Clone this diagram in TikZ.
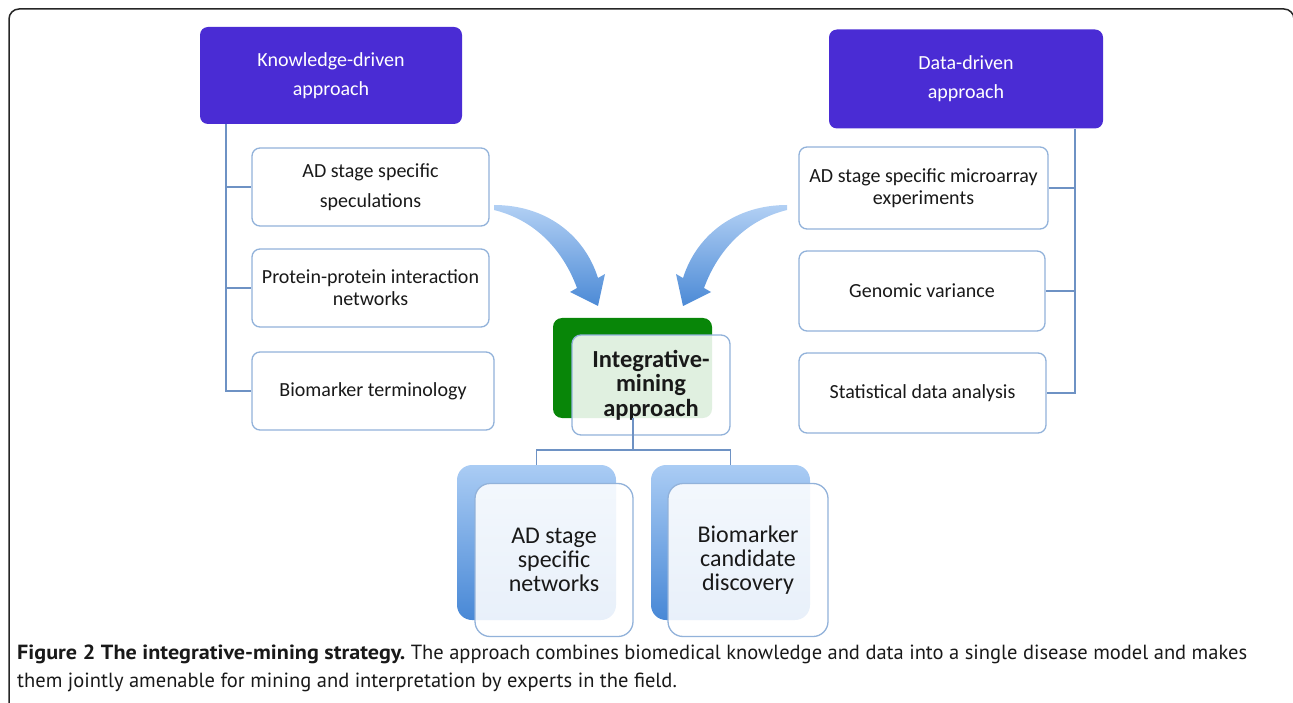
\documentclass[tikz,border=0pt]{standalone}
\usepackage{fontspec}
\usepackage{graphicx}
\setmainfont{Carlito}
\newfontfamily\capfont{PT Sans}
\definecolor{kdpurple}{RGB}{74,44,212}
\definecolor{boxline}{RGB}{146,178,218}
\definecolor{conline}{RGB}{110,146,196}
\definecolor{gbox}{RGB}{8,134,8}
\definecolor{arrlight}{RGB}{178,208,244}
\definecolor{arrdark}{RGB}{76,138,214}
\definecolor{btop}{RGB}{170,204,244}
\definecolor{bbot}{RGB}{72,136,214}
\definecolor{txt}{RGB}{25,25,25}
\tikzset{
  headbox/.style={fill=kdpurple, draw=none, rounded corners=8pt, text=white, align=center, font=\fontsize{20}{29}\selectfont, inner sep=0pt},
  childbox/.style={fill=white, draw=boxline, line width=1.3pt, rounded corners=8pt, text=txt, align=center, font=\fontsize{20}{22}\selectfont, inner sep=0pt},
  conn/.style={draw=conline, line width=1.3pt},
  greenbox/.style={fill=gbox, draw=none, rounded corners=9pt, inner sep=0pt},
  frontbox/.style={fill=white, fill opacity=0.88, text opacity=1, draw=boxline, line width=1.3pt, rounded corners=9pt, text=txt, align=center, inner sep=0pt},
  backbox/.style={top color=btop, bottom color=bbot, draw=none, rounded corners=15pt, inner sep=0pt},
  bigarrow/.style={top color=arrlight, bottom color=arrdark, draw=none},
}
\begin{document}
\begin{tikzpicture}[x=1pt,y=-1pt]
\useasboundingbox (0,0) rectangle (1293,703);
\begin{scope}
\clip (0,0) rectangle (1293,703);
\draw[line width=1.5pt, draw=black!85, rounded corners=10pt] (9,720) -- (9,9) -- (1294,9) -- (1294,720);
\end{scope}

% knowledge-driven side
\node[headbox, minimum width=262pt, minimum height=97pt] (kd) at (331,75.5) {Knowledge-driven\\approach};
\node[childbox, minimum width=237pt, minimum height=78pt, font=\fontsize{20}{30}\selectfont] (k1) at (370.5,187) {AD stage specific\\speculations};
\node[childbox, minimum width=237pt, minimum height=78pt] (k2) at (370.5,288) {Protein-protein interaction\\networks};
\node[childbox, minimum width=242pt, minimum height=78pt] (k3) at (373,391) {Biomarker terminology};
\coordinate (kx) at (226,0);
\draw[conn] (kd.south -| kx) |- (k3.west);
\draw[conn] (kx |- k1.west) -- (k1.west);
\draw[conn] (kx |- k2.west) -- (k2.west);

% data-driven side
\node[headbox, minimum width=274pt, minimum height=99pt] (dd) at (966,79) {Data-driven\\approach};
\node[childbox, minimum width=249pt, minimum height=82pt] (d1) at (923.5,188) {AD stage specific microarray\\experiments};
\node[childbox, minimum width=246pt, minimum height=80pt] (d2) at (922,291) {Genomic variance};
\node[childbox, minimum width=247pt, minimum height=80pt] (d3) at (922.5,393) {Statistical data analysis};
\coordinate (dx) at (1075,0);
\draw[conn] (dd.south -| dx) |- (d3.east);
\draw[conn] (dx |- d1.east) -- (d1.east);
\draw[conn] (dx |- d2.east) -- (d2.east);

% curved arrows
\path[bigarrow] (494,205) .. controls (545,205) and (584,234) .. (598,278) -- (605,274) -- (598,306) -- (570,292) -- (577,288) .. controls (563,250) and (535,220) .. (494,210) -- cycle;
\path[bigarrow] (787,205) .. controls (736,205) and (697,234) .. (683,278) -- (676,274) -- (683,306) -- (711,292) -- (704,288) .. controls (718,250) and (746,220) .. (787,210) -- cycle;

% integrative mining
\node[greenbox, minimum width=159pt, minimum height=100pt] (gb) at (632.5,368) {};
\node[frontbox, minimum width=158pt, minimum height=100pt, font=\fontsize{24.5}{24.5}\selectfont\bfseries] (im) at (651,385) {Integrative-\\mining\\approach};

% bottom boxes
\node[backbox, minimum width=159pt, minimum height=155pt] (b1) at (536.5,542.5) {};
\node[frontbox, rounded corners=15pt, minimum width=158pt, minimum height=153pt, font=\fontsize{24}{24}\selectfont] (f1) at (554,560) {AD stage\\specific\\networks};
\node[backbox, minimum width=159pt, minimum height=155pt] (b2) at (730.5,542.5) {};
\node[frontbox, rounded corners=15pt, minimum width=160pt, minimum height=153pt, font=\fontsize{24}{24}\selectfont] (f2) at (748,560) {Biomarker\\candidate\\discovery};

\coordinate (split) at (633,450);
\draw[conn] (gb.south -| split) -- (split);
\draw[conn] (b1.north) |- (split) -| (b2.north);

% caption
\node[anchor=west, align=left, inner sep=0pt, font=\capfont\fontsize{20.5}{28}\selectfont, text=black!90] (cap) at (17,668) {\scalebox{1.08}[1]{\textbf{Figure 2 The integrative-mining strategy.}} The approach combines biomedical knowledge and data into a single disease model and makes\\them jointly amenable for mining and interpretation by experts in the field.};
\end{tikzpicture}
\end{document}
